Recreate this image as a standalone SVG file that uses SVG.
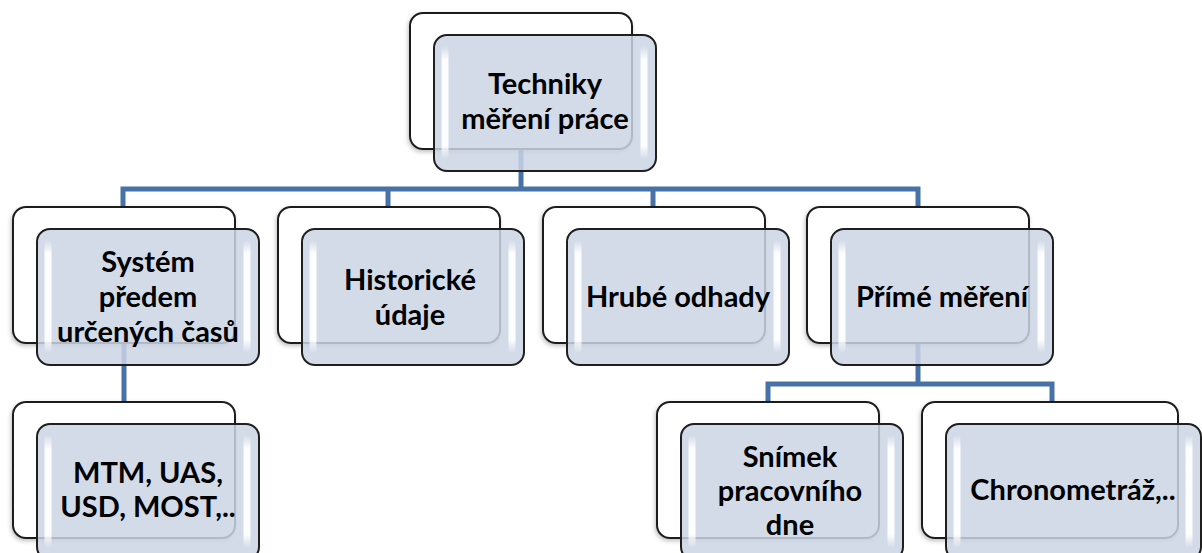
<svg xmlns="http://www.w3.org/2000/svg" width="1202" height="553" viewBox="0 0 1202 553">
<defs>
<style>
.back{fill:#ffffff;stroke:#1f1f1f;stroke-width:2;filter:url(#sh)}
.front{fill:#cbd5e5;fill-opacity:0.85;stroke:#1f1f1f;stroke-width:2}
.hl{fill:url(#hlg)}
.t{font-family:Lato,"Noto Sans","Liberation Sans",sans-serif;font-weight:700;font-size:29px;fill:#000;text-anchor:middle}
.conn{stroke:#4672a8;stroke-width:5;fill:none;stroke-linejoin:miter}
</style>
<linearGradient id="hlg" x1="0" y1="0" x2="0" y2="1">
<stop offset="0" stop-color="#fff" stop-opacity="0"/>
<stop offset="0.12" stop-color="#fff" stop-opacity="0.95"/>
<stop offset="0.88" stop-color="#fff" stop-opacity="0.95"/>
<stop offset="1" stop-color="#fff" stop-opacity="0"/>
</linearGradient>
<filter id="sh" x="-10%" y="-10%" width="120%" height="125%">
<feDropShadow dx="-1" dy="2" stdDeviation="2" flood-color="#000" flood-opacity="0.25"/>
</filter>
</defs>
<rect width="1202" height="553" fill="#ffffff"/>
<g id="connectors">
<path class="conn" d="M521,148 V189 M123,207 V189 H918 V207 M388,189 V207 M653,189 V207"/>
<path class="conn" d="M124,342 V402"/>
<path class="conn" d="M918,343 V384 M768,402 V384 H1052 V402"/>
</g>
<g id="n0">
<rect class="back" x="410" y="13" width="222" height="136" rx="13"/>
<rect class="front" x="434" y="35" width="222" height="136" rx="13"/>
<rect class="hl" x="441.5" y="46" width="7" height="113" rx="3.5"/>
<rect class="hl" x="640.5" y="46" width="7" height="113" rx="3.5"/>
<text class="t" x="545" y="94">Techniky</text>
<text class="t" x="545" y="129">měření práce</text>
</g>
<g id="n1">
<rect class="back" x="13" y="207" width="222" height="136" rx="13"/>
<rect class="front" x="37" y="229" width="222" height="136" rx="13"/>
<rect class="hl" x="44.5" y="240" width="7" height="113" rx="3.5"/>
<rect class="hl" x="243.5" y="240" width="7" height="113" rx="3.5"/>
<text class="t" x="148" y="272">Systém</text>
<text class="t" x="148" y="307">předem</text>
<text class="t" x="148" y="342">určených časů</text>
</g>
<g id="n2">
<rect class="back" x="278" y="207" width="222" height="136" rx="13"/>
<rect class="front" x="302" y="229" width="222" height="136" rx="13"/>
<rect class="hl" x="309.5" y="240" width="7" height="113" rx="3.5"/>
<rect class="hl" x="508.5" y="240" width="7" height="113" rx="3.5"/>
<text class="t" x="410" y="290">Historické</text>
<text class="t" x="410" y="325">údaje</text>
</g>
<g id="n3">
<rect class="back" x="543" y="207" width="222" height="136" rx="13"/>
<rect class="front" x="567" y="229" width="222" height="136" rx="13"/>
<rect class="hl" x="574.5" y="240" width="7" height="113" rx="3.5"/>
<rect class="hl" x="773.5" y="240" width="7" height="113" rx="3.5"/>
<text class="t" x="678" y="307">Hrubé odhady</text>
</g>
<g id="n4">
<rect class="back" x="807" y="207" width="222" height="136" rx="13"/>
<rect class="front" x="831" y="229" width="222" height="136" rx="13"/>
<rect class="hl" x="838.5" y="240" width="7" height="113" rx="3.5"/>
<rect class="hl" x="1037.5" y="240" width="7" height="113" rx="3.5"/>
<text class="t" x="942" y="307">Přímé měření</text>
</g>
<g id="n5">
<rect class="back" x="13" y="402" width="222" height="136" rx="13"/>
<rect class="front" x="37" y="424" width="222" height="136" rx="13"/>
<rect class="hl" x="44.5" y="435" width="7" height="113" rx="3.5"/>
<rect class="hl" x="243.5" y="435" width="7" height="113" rx="3.5"/>
<text class="t" x="148" y="483">MTM, UAS,</text>
<text class="t" x="148" y="517">USD, MOST,..</text>
</g>
<g id="n6">
<rect class="back" x="657" y="402" width="222" height="136" rx="13"/>
<rect class="front" x="681" y="424" width="222" height="136" rx="13"/>
<rect class="hl" x="688.5" y="435" width="7" height="113" rx="3.5"/>
<rect class="hl" x="887.5" y="435" width="7" height="113" rx="3.5"/>
<text class="t" x="790" y="467">Snímek</text>
<text class="t" x="790" y="501">pracovního</text>
<text class="t" x="790" y="535">dne</text>
</g>
<g id="n7">
<rect class="back" x="922" y="402" width="256" height="136" rx="13"/>
<rect class="front" x="946" y="424" width="255" height="136" rx="13"/>
<rect class="hl" x="953.5" y="435" width="7" height="113" rx="3.5"/>
<rect class="hl" x="1185.5" y="435" width="7" height="113" rx="3.5"/>
<text class="t" x="1073" y="500">Chronometráž,..</text>
</g>
</svg>
